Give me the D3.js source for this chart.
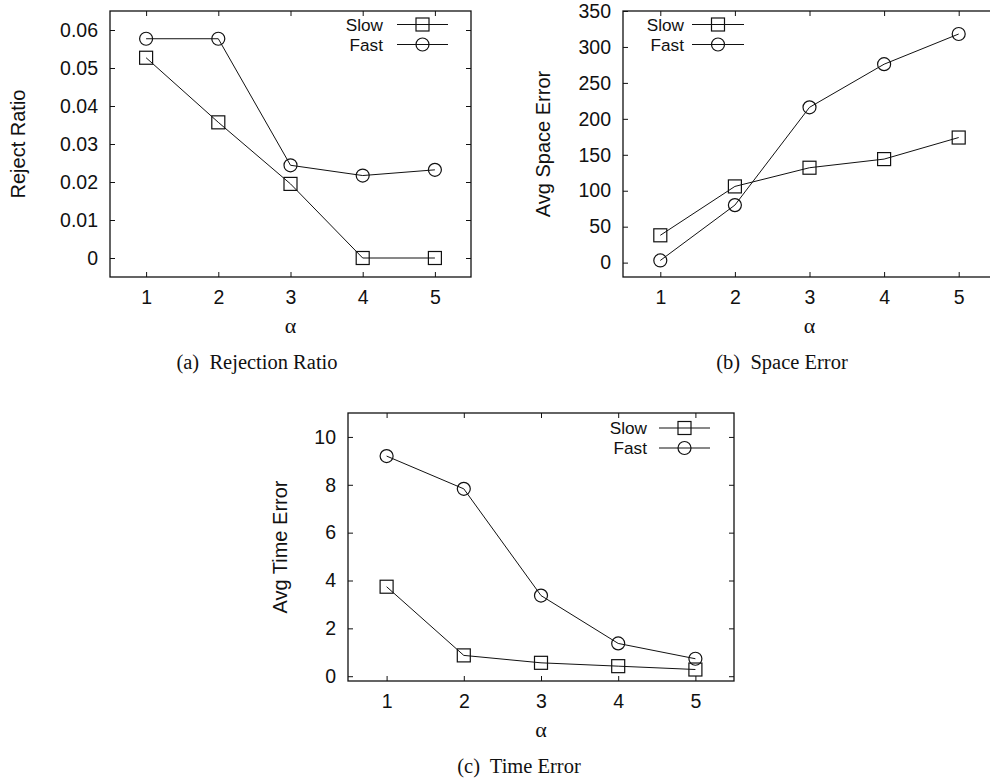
<!DOCTYPE html>
<html>
<head>
<meta charset="utf-8">
<script src="https://cdn.jsdelivr.net/npm/d3@7"></script>
<style>
body { margin: 0; background: #fff; }
svg text { fill: #111; }
.cap { white-space: pre; }
</style>
</head>
<body>
<script>
const alphas = [1, 2, 3, 4, 5];
const seriesNames = ["Slow", "Fast"];

const rejectSlow = [0.0527, 0.0357, 0.0195, 0, 0];
const rejectFast = [0.0577, 0.0577, 0.0244, 0.0217, 0.0232];
const spaceSlow = [38, 106, 132, 144, 174];
const spaceFast = [3, 80, 216, 276, 318];
const timeSlow = [3.74, 0.87, 0.56, 0.42, 0.28];
const timeFast = [9.2, 7.83, 3.37, 1.37, 0.73];

const rejectTicks = [0, 0.01, 0.02, 0.03, 0.04, 0.05, 0.06];
const spaceTicks = [0, 50, 100, 150, 200, 250, 300, 350];
const timeTicks = [0, 2, 4, 6, 8, 10];

const yLabels = ["Reject Ratio", "Avg Space Error", "Avg Time Error"];
const captions = ["(a)  Rejection Ratio", "(b)  Space Error", "(c)  Time Error"];

const width = 990;
const height = 780;
const sans = "'Liberation Sans', Arial, Helvetica, sans-serif";
const serif = "'Liberation Serif', 'Times New Roman', serif";
const fs = 19.5;

const svg = d3.select("body").append("svg")
    .attr("width", width)
    .attr("height", height);

svg.append("rect").attr("width", width).attr("height", height).attr("fill", "#fff");

// layout of the three panels (pixel boxes, label positions)
const panels = [
    {slow: rejectSlow, fast: rejectFast, ticks: rejectTicks, yDomain: [-0.005, 0.065],
     ylabel: yLabels[0], caption: captions[0],
     box: {l: 110, r: 471, t: 11, b: 277}, ylabelX: 18, captionX: 257, captionY: 369, alphaY: 333,
     legend: {text: 383, x1: 397, x2: 448, y: 24.5}},
    {slow: spaceSlow, fast: spaceFast, ticks: spaceTicks, yDomain: [-20, 350],
     ylabel: yLabels[1], caption: captions[1],
     box: {l: 623, r: 996, t: 11, b: 277}, ylabelX: 543, captionX: 782, captionY: 369, alphaY: 333,
     legend: {text: 684, x1: 692, x2: 744, y: 24.5}},
    {slow: timeSlow, fast: timeFast, ticks: timeTicks, yDomain: [-0.2, 11],
     ylabel: yLabels[2], caption: captions[2],
     box: {l: 348, r: 734, t: 413, b: 681}, ylabelX: 280, captionX: 519, captionY: 773, alphaY: 737,
     legend: {text: 647, x1: 659, x2: 710, y: 428}}
];

function drawMarker(g, kind, x, y) {
    if (kind === "Slow") {
        g.append("rect")
            .attr("x", x - 6.5).attr("y", y - 6.5)
            .attr("width", 13).attr("height", 13)
            .attr("fill", "none").attr("stroke", "#111").attr("stroke-width", 1.2);
    } else {
        g.append("circle")
            .attr("cx", x).attr("cy", y).attr("r", 6.5)
            .attr("fill", "none").attr("stroke", "#111").attr("stroke-width", 1.2);
    }
}

panels.forEach(p => {
    const b = p.box;
    const x = d3.scaleLinear().domain([0.5, 5.5]).range([b.l, b.r]);
    const y = d3.scaleLinear().domain(p.yDomain).range([b.b, b.t]);
    const g = svg.append("g");

    // axes with inward ticks, labels on left and bottom
    const left = g.append("g").attr("transform", `translate(${b.l},0)`)
        .call(d3.axisLeft(y).tickValues(p.ticks).tickFormat(d => String(d))
            .tickSizeInner(-5).tickSizeOuter(0).tickPadding(12));
    const bottom = g.append("g").attr("transform", `translate(0,${b.b})`)
        .call(d3.axisBottom(x).tickValues(alphas).tickFormat(d3.format("d"))
            .tickSizeInner(-5).tickSizeOuter(0).tickPadding(13));
    const right = g.append("g").attr("transform", `translate(${b.r},0)`)
        .call(d3.axisRight(y).tickValues(p.ticks).tickFormat("")
            .tickSizeInner(-5).tickSizeOuter(0));
    const top = g.append("g").attr("transform", `translate(0,${b.t})`)
        .call(d3.axisTop(x).tickValues(alphas).tickFormat("")
            .tickSizeInner(-5).tickSizeOuter(0));

    [left, bottom, right, top].forEach(a => {
        a.select(".domain").remove();
        a.selectAll("line").attr("stroke", "#111").attr("stroke-width", 1);
        a.selectAll("text").attr("font-family", sans).attr("font-size", fs).attr("fill", "#111");
    });

    g.append("rect")
        .attr("x", b.l).attr("y", b.t)
        .attr("width", b.r - b.l).attr("height", b.b - b.t)
        .attr("fill", "none").attr("stroke", "#111").attr("stroke-width", 1.3);

    // series
    const line = d3.line().x((d, i) => x(alphas[i])).y(d => y(d));
    [["Slow", p.slow], ["Fast", p.fast]].forEach(([name, vals]) => {
        g.append("path").datum(vals)
            .attr("d", line)
            .attr("fill", "none").attr("stroke", "#111").attr("stroke-width", 1);
        vals.forEach((v, i) => drawMarker(g, name, x(alphas[i]), y(v)));
    });

    // legend (rows a bit apart so the text boxes don't collide)
    seriesNames.forEach((name, i) => {
        const ly = p.legend.y + i * 20;
        g.append("text")
            .attr("x", p.legend.text).attr("y", ly).attr("dy", "0.35em")
            .attr("text-anchor", "end")
            .attr("font-family", sans).attr("font-size", 17.2)
            .text(name);
        g.append("line")
            .attr("x1", p.legend.x1).attr("x2", p.legend.x2)
            .attr("y1", ly).attr("y2", ly)
            .attr("stroke", "#111").attr("stroke-width", 1);
        drawMarker(g, name, (p.legend.x1 + p.legend.x2) / 2, ly);
    });

    // axis titles and caption
    g.append("text")
        .attr("transform", `translate(${p.ylabelX},${(b.t + b.b) / 2}) rotate(-90)`)
        .attr("dy", "0.35em").attr("text-anchor", "middle")
        .attr("font-family", sans).attr("font-size", 20)
        .text(p.ylabel);
    g.append("text")
        .attr("x", x(3)).attr("y", p.alphaY)
        .attr("text-anchor", "middle")
        .attr("font-family", serif).attr("font-size", 22)
        .text("α");
    g.append("text")
        .attr("class", "cap")
        .attr("x", p.captionX).attr("y", p.captionY)
        .attr("text-anchor", "middle")
        .attr("font-family", serif).attr("font-size", 20.5)
        .text(p.caption);
});
</script>
</body>
</html>
